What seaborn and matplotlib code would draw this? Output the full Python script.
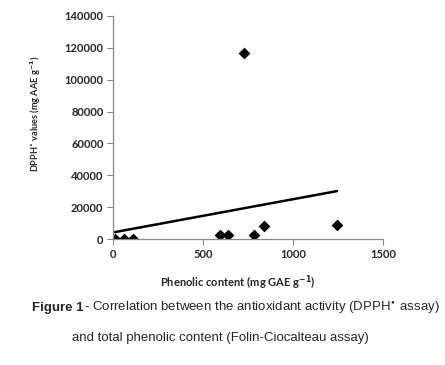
import matplotlib
matplotlib.use("Agg")
import matplotlib.pyplot as plt
import seaborn as sns
import pandas as pd

# values
phenolic = [9, 60, 110, 594, 636, 727, 783, 839, 1243]
dpph = [200, 200, 200, 2500, 2500, 116600, 2500, 8300, 8700]

x_ticks = [0, 500, 1000, 1500]
y_ticks = [0, 20000, 40000, 60000, 80000, 100000, 120000, 140000]

df = pd.DataFrame({"phenolic": phenolic, "dpph": dpph})

sns.set_style("white")
plt.rcParams["font.family"] = ["Lato", "DejaVu Sans"]

fig = plt.figure(figsize=(4.45, 3.65), dpi=100)
ax = fig.add_axes([0.2546, 0.3452, 0.6067, 0.611])

sns.regplot(data=df, x="phenolic", y="dpph", ax=ax, ci=None,
            marker="D",
            scatter_kws={"color": "black", "s": 36, "linewidths": 0, "alpha": 1},
            line_kws={"color": "black", "linewidth": 1.8})

ax.set_xlim(0, 1500)
ax.set_ylim(0, 140000)
ax.set_xticks(x_ticks)
ax.set_yticks(y_ticks)
ax.set_xticklabels([str(v) for v in x_ticks], fontweight="bold", fontsize=8)
ax.set_yticklabels([str(v) for v in y_ticks], fontweight="bold", fontsize=8)
ax.tick_params(axis="both", length=4, width=0.8, color="#888888", pad=3,
               bottom=True, left=True)

sns.despine(ax=ax)
for side in ("left", "bottom"):
    ax.spines[side].set_color("#888888")
    ax.spines[side].set_linewidth(0.9)

ax.set_xlabel(r"Phenolic content (mg GAE g$^{\mathbf{-1}}$)", fontweight="bold",
              fontsize=8)
ax.xaxis.set_label_coords(0.46, -0.155)
ax.set_ylabel(r"DPPH$^{\bullet}$ values (mg AAE g$^{\mathbf{-1}}$)", fontweight="bold",
              fontsize=6.6)
ax.yaxis.set_label_coords(-0.26, 0.56)

cap_font = ["Liberation Sans", "DejaVu Sans"]
y1 = 1 - 311 / 365
t1 = fig.text(0.072, y1, "Figure 1", fontweight="bold", fontsize=9.5,
              family=cap_font, va="baseline")
fig.canvas.draw()
bb = t1.get_window_extent()
fig.text(bb.x1 / fig.bbox.width, y1,
         r"- Correlation between the antioxidant activity (DPPH$^{\bullet}$ assay)",
         va="baseline", ha="left", fontsize=9.5, family=cap_font)
fig.text(220 / 445, 1 - 341 / 365, "and total phenolic content (Folin-Ciocalteau assay)",
         fontsize=9.5, family=cap_font, ha="center", va="baseline")

fig.savefig("out.png", dpi=100)
